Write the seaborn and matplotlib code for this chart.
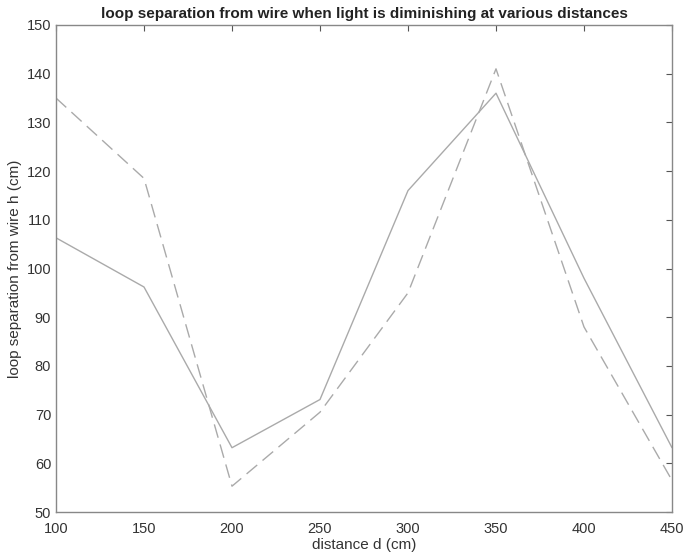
import matplotlib
matplotlib.use('Agg')
import matplotlib.pyplot as plt
import seaborn as sns
import pandas as pd

## Data
distance = [100, 150, 200, 250, 300, 350, 400, 450]
h_solid = [106.3, 96.2, 63.2, 73.1, 116, 136, 98, 63.2]
h_dashed = [135, 118.5, 55.3, 70.5, 95, 141, 88, 56.5]

df = pd.concat([
    pd.DataFrame({'d': distance, 'h': h_solid, 'run': 'a'}),
    pd.DataFrame({'d': distance, 'h': h_dashed, 'run': 'b'}),
])

sns.set_style('white')
plt.rcParams['font.family'] = ['Liberation Sans', 'DejaVu Sans']
axcol = '#555555'

fig = plt.figure(figsize=(6.84, 5.58), dpi=100)
ax = fig.add_axes([56/684, 1-512/558, (672-56)/684, (512-25)/558])
sns.lineplot(ax=ax, data=df, x='d', y='h', style='run', color='#aaaaaa',
             dashes={'a': '', 'b': (10, 5)}, linewidth=1.0, legend=False)

ax.set_xlim(100, 450)
ax.set_ylim(50, 150)
ax.set_xticks(range(100, 451, 50))
ax.set_yticks(range(50, 151, 10))
ax.tick_params(direction='in', top=True, right=True, length=4, width=0.8,
               color=axcol, labelcolor='#333333', labelsize=10.5)
ax.tick_params(axis='x', pad=7)
for s in ax.spines.values():
    s.set_color('#888888')
    s.set_linewidth(1.0)
ax.set_xlabel('distance d (cm)', fontsize=11, color='#333333', labelpad=2)
ax.set_ylabel('loop separation from wire h (cm)', fontsize=11, color='#333333', labelpad=3)
ax.set_title('loop separation from wire when light is diminishing at various distances',
             fontsize=11, fontweight='bold', color='#222222', pad=5)

plt.savefig('out.png', dpi=100)
plt.close()
